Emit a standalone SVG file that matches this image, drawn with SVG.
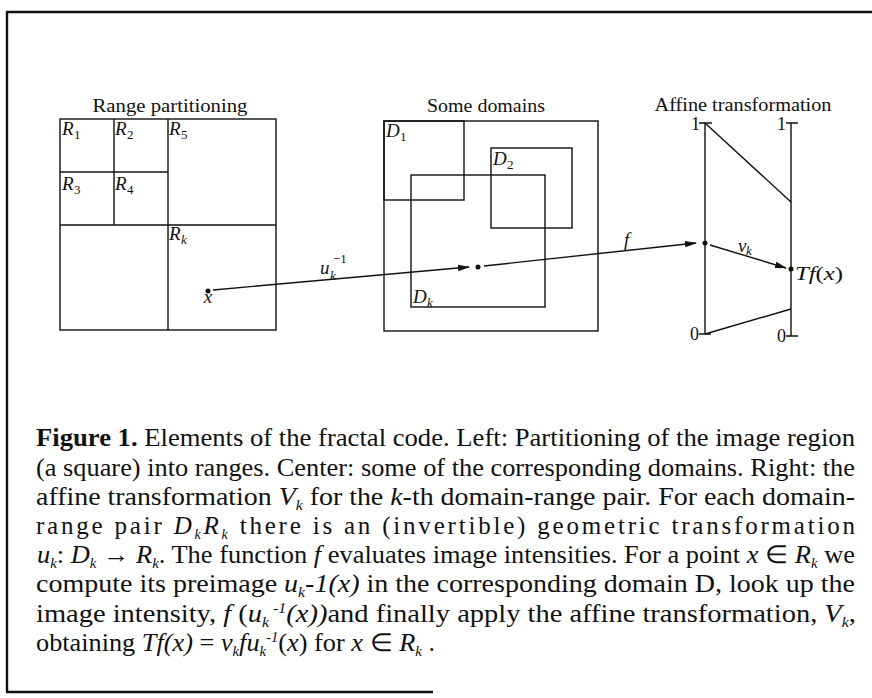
<svg xmlns="http://www.w3.org/2000/svg" width="872" height="698" viewBox="0 0 872 698">
<style>
.ln{fill:none;stroke:#111;stroke-width:1.4}
.fr{fill:none;stroke:#111;stroke-width:2.4}
.t{font-family:"Liberation Serif",serif;fill:#111;font-size:18px}
.m{font-family:"Liberation Serif",serif;font-style:italic;fill:#111;font-size:19px}
.n{font-family:"Liberation Serif",serif;fill:#111;font-size:13px}
.sk{font-family:"Liberation Serif",serif;font-style:italic;fill:#111;font-size:13px}
.cap{font-family:"Liberation Serif",serif;font-size:25px;fill:#111}
.i{font-style:italic}
.sb{font-style:italic;font-size:14px}
.sp{font-style:italic;font-size:14px}
.dot{fill:#111}
</style>
<defs>
<marker id="ah" markerWidth="12" markerHeight="8" refX="11" refY="4" orient="auto" markerUnits="userSpaceOnUse"><path d="M0,0.8 L12,4 L0,7.2 z" fill="#111"/></marker>
</defs>
<rect width="872" height="698" fill="#fff"/>
<g id="frame">
<path class="fr" d="M7,691 V12 H872"/>
<path class="fr" d="M6,692 H433"/>
</g>
<g id="range-partitioning">
<text class="t" x="170" y="112" text-anchor="middle" textLength="155" lengthAdjust="spacingAndGlyphs">Range partitioning</text>
<rect class="ln" x="60" y="119" width="216" height="211"/>
<path class="ln" d="M168,119 V330 M60,225 H276 M114,119 V225 M60,172 H168"/>
<text class="m" x="62" y="135">R</text><text class="n" x="74" y="139">1</text>
<text class="m" x="115" y="135">R</text><text class="n" x="127" y="139">2</text>
<text class="m" x="169" y="135">R</text><text class="n" x="181" y="139">5</text>
<text class="m" x="62" y="190">R</text><text class="n" x="74" y="194">3</text>
<text class="m" x="115" y="190">R</text><text class="n" x="127" y="194">4</text>
<text class="m" x="169" y="240">R</text><text class="sk" x="181" y="244">k</text>
<circle class="dot" cx="208" cy="291" r="2.5"/>
<text class="m" x="208" y="303" text-anchor="middle">x</text>
</g>
<g id="some-domains">
<text class="t" x="486" y="112" text-anchor="middle" textLength="118" lengthAdjust="spacingAndGlyphs">Some domains</text>
<rect class="ln" x="384" y="121" width="214" height="210"/>
<rect class="ln" x="384" y="121" width="80" height="79"/>
<rect class="ln" x="491" y="148" width="81" height="80"/>
<rect class="ln" x="411" y="175" width="134" height="132"/>
<text class="m" x="386" y="137">D</text><text class="n" x="400" y="141">1</text>
<text class="m" x="493" y="165">D</text><text class="n" x="507" y="169">2</text>
<text class="m" x="413" y="303">D</text><text class="sk" x="427" y="307">k</text>
<circle class="dot" cx="478" cy="267" r="2.5"/>
</g>
<g id="affine-transformation">
<text class="t" x="743" y="111" text-anchor="middle" textLength="177" lengthAdjust="spacingAndGlyphs">Affine transformation</text>
<path class="ln" d="M705,123 V334 M791,123 V336 M699,123 H712 M786,123 H798 M699,334 H711 M786,336 H798"/>
<path class="ln" d="M705,123 L791,202 M705,334 L791,309"/>
<text class="t" x="691" y="130" font-size="16">1</text>
<text class="t" x="777" y="130" font-size="16">1</text>
<text class="t" x="690" y="340" font-size="16">0</text>
<text class="t" x="777" y="342" font-size="16">0</text>
<circle class="dot" cx="705" cy="243" r="2.5"/>
<circle class="dot" cx="791" cy="269" r="2.5"/>
<text class="m" x="795" y="280" textLength="48" lengthAdjust="spacingAndGlyphs">Tf<tspan font-style="normal">(</tspan>x<tspan font-style="normal">)</tspan></text>
</g>
<g id="connectors">
<path class="ln" d="M213,290 L469,267" marker-end="url(#ah)"/>
<path class="ln" d="M484,266 L696,243" marker-end="url(#ah)"/>
<path class="ln" d="M710,245 L786,268" marker-end="url(#ah)"/>
<text class="m" x="320" y="274">u</text><text class="sk" x="330" y="280">k</text><text class="n" x="333" y="263">−1</text>
<text class="m" x="624" y="246">f</text>
<text class="m" x="738" y="252" font-size="16">v</text><text class="sk" x="746" y="255" font-size="11">k</text>
</g>
<g id="caption">
<text class="cap" x="36" y="446" textLength="819" lengthAdjust="spacingAndGlyphs"><tspan font-weight="bold">Figure 1.</tspan> Elements of the fractal code. Left: Partitioning of the image region</text>
<text class="cap" x="36" y="476" textLength="819" lengthAdjust="spacingAndGlyphs">(a square) into ranges. Center: some of the corresponding domains. Right: the</text>
<text class="cap" x="36" y="505" textLength="819" lengthAdjust="spacingAndGlyphs">affine transformation <tspan class="i">V</tspan><tspan class="sb" dy="5">k</tspan><tspan dy="-5"> for the </tspan><tspan class="i">k</tspan>-th domain-range pair. For each domain-</text>
<text class="cap" x="36" y="534" textLength="819" lengthAdjust="spacing">range pair <tspan class="i">D</tspan><tspan class="sb" dy="5">k</tspan><tspan class="i" dy="-5">R</tspan><tspan class="sb" dy="5">k</tspan><tspan dy="-5"> there is an (invertible) geometric transformation</tspan></text>
<text class="cap" x="37" y="563" textLength="818" lengthAdjust="spacingAndGlyphs"><tspan class="i">u</tspan><tspan class="sb" dy="5">k</tspan><tspan dy="-5">: </tspan><tspan class="i">D</tspan><tspan class="sb" dy="5">k</tspan><tspan dy="-5"> → </tspan><tspan class="i">R</tspan><tspan class="sb" dy="5">k</tspan><tspan dy="-5">. The function </tspan><tspan class="i">f</tspan> evaluates image intensities. For a point  <tspan class="i">x</tspan> ∈ <tspan class="i">R</tspan><tspan class="sb" dy="5">k</tspan><tspan dy="-5">   we</tspan></text>
<text class="cap" x="36" y="592" textLength="819" lengthAdjust="spacingAndGlyphs">compute its preimage <tspan class="i">u</tspan><tspan class="sb" dy="5">k</tspan><tspan dy="-5">-</tspan><tspan class="i">1(x)</tspan> in the corresponding domain D, look up the</text>
<text class="cap" x="36" y="622" textLength="820" lengthAdjust="spacingAndGlyphs">image intensity, <tspan class="i">f</tspan> (<tspan class="i">u</tspan><tspan class="sb" dy="5">k</tspan><tspan class="sp" dy="-14"> -1</tspan><tspan class="i" dy="9">(x))</tspan>and finally apply the affine transformation, <tspan class="i">V</tspan><tspan class="sb" dy="5">k</tspan><tspan dy="-5">,</tspan></text>
<text class="cap" x="36" y="651" textLength="399" lengthAdjust="spacingAndGlyphs">obtaining <tspan class="i">Tf(x)</tspan> = <tspan class="i">v</tspan><tspan class="sb" dy="5">k</tspan><tspan class="i" dy="-5">fu</tspan><tspan class="sb" dy="5">k</tspan><tspan class="sp" dy="-14">-1</tspan><tspan dy="9">(</tspan><tspan class="i">x</tspan>) for <tspan class="i">x</tspan> ∈ <tspan class="i">R</tspan><tspan class="sb" dy="5">k</tspan><tspan dy="-5">  .</tspan></text>
</g>
</svg>
